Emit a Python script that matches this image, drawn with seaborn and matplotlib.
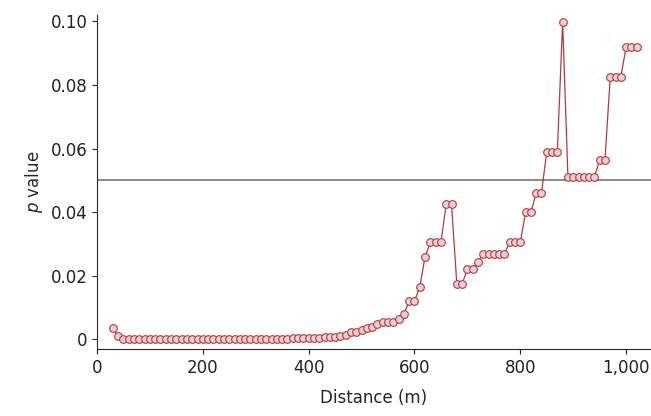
import matplotlib
matplotlib.use("Agg")
import matplotlib.pyplot as plt
import matplotlib.ticker as mticker
import seaborn as sns
import pandas as pd
import numpy as np

# distance (m) and p value
distance = list(range(30, 1030, 10))
p_value = ([0.0035, 0.001, 0.0003] + [0.0002] * 31 +
           [0.0004, 0.0005, 0.0006, 0.0006, 0.0005, 0.0006, 0.0007, 0.0008, 0.0009,
            0.001, 0.0015, 0.0022, 0.0025, 0.003, 0.0035, 0.004, 0.005,
            0.0055, 0.0055, 0.0055, 0.0065, 0.008, 0.012, 0.012, 0.0165, 0.026,
            0.0305, 0.0305, 0.0305, 0.0425, 0.0425, 0.0175, 0.0175, 0.022, 0.022,
            0.0245, 0.027, 0.027, 0.027, 0.027, 0.027, 0.0305, 0.0305, 0.0305,
            0.040, 0.040, 0.046, 0.046, 0.059, 0.059, 0.059, 0.0998,
            0.051, 0.051, 0.051, 0.051, 0.051, 0.051, 0.0565, 0.0565,
            0.0825, 0.0825, 0.0825, 0.092, 0.092, 0.092])
df = pd.DataFrame({"distance": distance, "p": p_value})

sns.set_style("ticks")
fig = plt.figure(figsize=(6.51, 4.16), dpi=100)
ax = fig.add_axes([0.149, 0.161, 0.851, 0.803])

ax.axhline(0.05, color="#777777", lw=1.2, zorder=1)
sns.lineplot(data=df, x="distance", y="p", ax=ax, color="#b03a3e", lw=0.9,
             marker="o", markersize=5.5, markerfacecolor="#f2d0d2",
             markeredgecolor="#b03a3e", markeredgewidth=0.8, zorder=2)

ax.set_xlim(0, 1047)
ax.set_ylim(-0.003, 0.102)
ax.set_xticks([0, 200, 400, 600, 800, 1000])
ax.xaxis.set_major_formatter(mticker.FuncFormatter(lambda v, _: f"{int(v):,}"))
ax.set_yticks([0, 0.02, 0.04, 0.06, 0.08, 0.10])
ax.set_yticklabels(["0", "0.02", "0.04", "0.06", "0.08", "0.10"])
ax.tick_params(labelsize=12, colors="#222222")
ax.set_xlabel("Distance (m)", fontsize=12, labelpad=9)
ax.set_ylabel(r"$\it{p}$ value", fontsize=12)
sns.despine(ax=ax)
fig.savefig("out.png", dpi=100)
